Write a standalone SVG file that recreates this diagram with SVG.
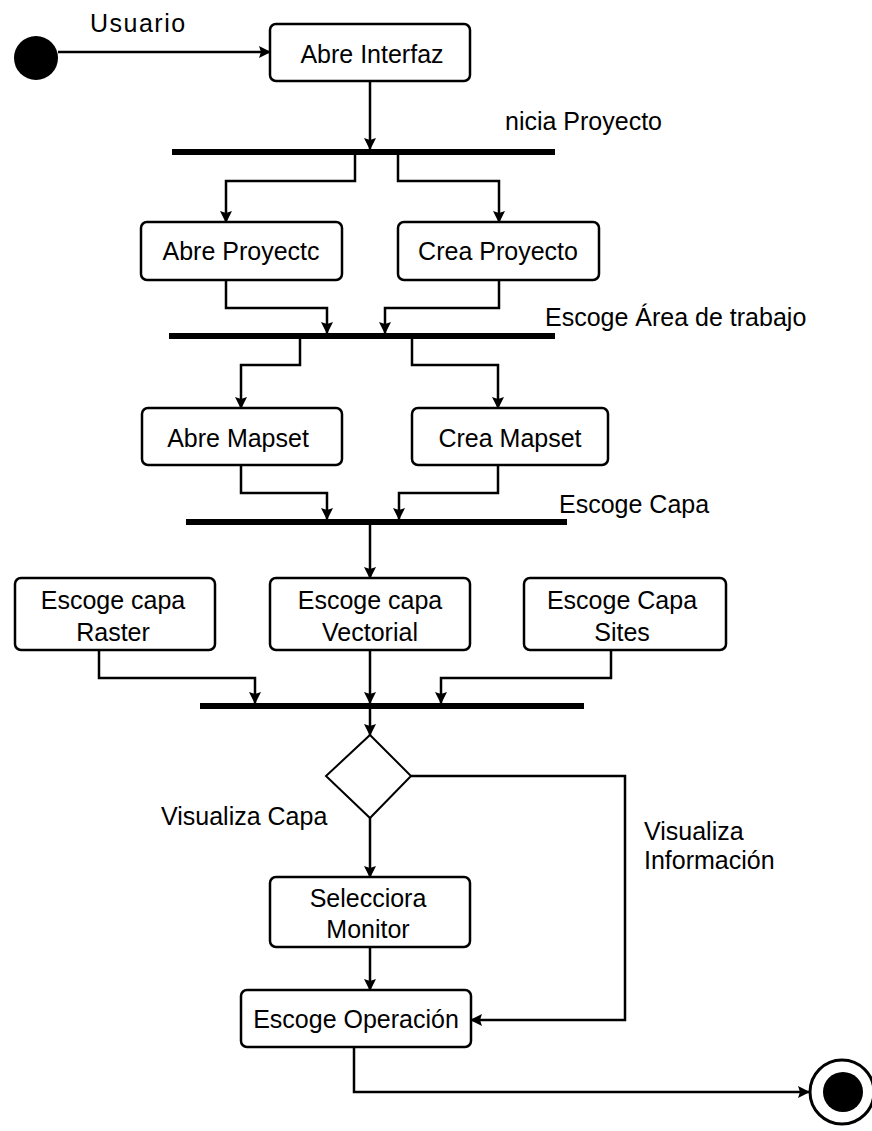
<svg xmlns="http://www.w3.org/2000/svg" width="872" height="1131" viewBox="0 0 872 1131">
  <defs>
    <marker id="arrow" viewBox="0 0 12 12" refX="11" refY="6" markerWidth="12" markerHeight="12" markerUnits="userSpaceOnUse" orient="auto">
      <path d="M0,0 L12,6 L0,12 L2,6 z" fill="#000"/>
    </marker>
    <style>
      text { font-family: "Liberation Sans", Arial, sans-serif; font-size: 25px; fill: #000; }
      .c { text-anchor: middle; }
      .act { fill: #fff; stroke: #000; stroke-width: 2.5; }
      .bar { fill: #000; }
      .edge { fill: none; stroke: #000; stroke-width: 2.5; marker-end: url(#arrow); }
    </style>
  </defs>
  <rect width="872" height="1131" fill="#fff"/>

  <!-- initial state -->
  <g id="start">
    <circle cx="36" cy="58" r="22" fill="#000"/>
    <text x="90" y="32" letter-spacing="1.5">Usuario</text>
  </g>

  <!-- activities -->
  <g id="abre-interfaz">
    <rect class="act" x="270" y="24" width="200" height="57" rx="6"/>
    <text class="c" x="372" y="63">Abre Interfaz</text>
  </g>
  <g id="abre-proyecto">
    <rect class="act" x="141" y="222" width="201" height="58" rx="6"/>
    <text class="c" x="241" y="260">Abre Proyectc</text>
  </g>
  <g id="crea-proyecto">
    <rect class="act" x="398" y="222" width="201" height="58" rx="6"/>
    <text class="c" x="498" y="260">Crea Proyecto</text>
  </g>
  <g id="abre-mapset">
    <rect class="act" x="142" y="408" width="200" height="57" rx="6"/>
    <text class="c" x="238" y="447">Abre Mapset</text>
  </g>
  <g id="crea-mapset">
    <rect class="act" x="412" y="408" width="196" height="57" rx="6"/>
    <text class="c" x="510" y="447">Crea Mapset</text>
  </g>
  <g id="capa-raster">
    <rect class="act" x="15" y="578" width="200" height="72" rx="6"/>
    <text class="c" x="113" y="609">Escoge capa</text>
    <text class="c" x="113" y="641">Raster</text>
  </g>
  <g id="capa-vectorial">
    <rect class="act" x="270" y="578" width="200" height="72" rx="6"/>
    <text class="c" x="370" y="609">Escoge capa</text>
    <text class="c" x="370" y="641">Vectorial</text>
  </g>
  <g id="capa-sites">
    <rect class="act" x="524" y="578" width="202" height="72" rx="6"/>
    <text class="c" x="622" y="609">Escoge Capa</text>
    <text class="c" x="622" y="641">Sites</text>
  </g>
  <g id="selecciona-monitor">
    <rect class="act" x="270" y="877" width="200" height="70" rx="6"/>
    <text class="c" x="368" y="907">Selecciora</text>
    <text class="c" x="368" y="938">Monitor</text>
  </g>
  <g id="escoge-operacion">
    <rect class="act" x="241" y="990" width="230" height="57" rx="6"/>
    <text class="c" x="356" y="1028">Escoge Operación</text>
  </g>

  <!-- synchronisation bars -->
  <g id="bar-proyecto">
    <rect class="bar" x="172" y="149" width="383" height="6"/>
    <text x="505" y="130">nicia Proyecto</text>
  </g>
  <g id="bar-area">
    <rect class="bar" x="169" y="333" width="386" height="6"/>
    <text x="545" y="326">Escoge Área de trabajo</text>
  </g>
  <g id="bar-capa">
    <rect class="bar" x="186" y="519" width="381" height="6"/>
    <text x="559" y="513">Escoge Capa</text>
  </g>
  <g id="bar-join">
    <rect class="bar" x="200" y="703" width="384" height="6"/>
  </g>

  <!-- decision -->
  <g id="decision">
    <polygon points="370,735 411,776 370,818 326,776" fill="#fff" stroke="#000" stroke-width="2"/>
    <text x="161" y="825">Visualiza Capa</text>
    <text x="644" y="840">Visualiza</text>
    <text x="644" y="869">Información</text>
  </g>

  <!-- final state -->
  <g id="end">
    <circle cx="842" cy="1092" r="32" fill="#fff" stroke="#000" stroke-width="3"/>
    <circle cx="843" cy="1092" r="20" fill="#000"/>
  </g>

  <!-- transitions -->
  <g id="connectors">
    <path class="edge" d="M58,52 H270"/>
    <path class="edge" d="M370,81 V149"/>
    <path class="edge" d="M355,155 V181 H226 V222"/>
    <path class="edge" d="M398,155 V181 H499 V222"/>
    <path class="edge" d="M226,280 V308 H327 V333"/>
    <path class="edge" d="M499,280 V308 H385 V333"/>
    <path class="edge" d="M300,339 V365 H241 V408"/>
    <path class="edge" d="M412,339 V365 H498 V408"/>
    <path class="edge" d="M241,465 V493 H327 V519"/>
    <path class="edge" d="M498,465 V493 H399 V519"/>
    <path class="edge" d="M370,525 V578"/>
    <path class="edge" d="M99,650 V678 H255 V703"/>
    <path class="edge" d="M370,650 V703"/>
    <path class="edge" d="M611,650 V678 H441 V703"/>
    <path class="edge" d="M370,709 V735"/>
    <path class="edge" d="M370,818 V877"/>
    <path class="edge" d="M411,776 H625 V1020 H471"/>
    <path class="edge" d="M370,947 V990"/>
    <path class="edge" d="M354,1047 V1092 H809"/>
  </g>
</svg>
